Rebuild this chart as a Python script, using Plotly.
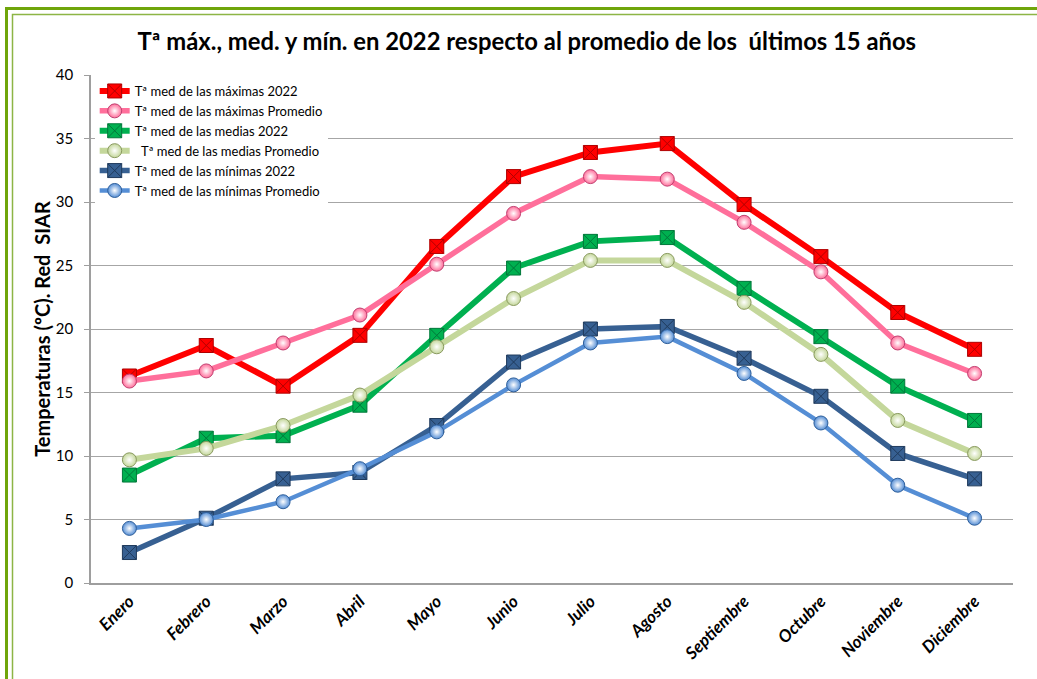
import plotly.graph_objects as go

meses = ["Enero", "Febrero", "Marzo", "Abril", "Mayo", "Junio", "Julio",
         "Agosto", "Septiembre", "Octubre", "Noviembre", "Diciembre"]

max_2022 = [16.3, 18.7, 15.5, 19.5, 26.5, 32.0, 33.9, 34.6, 29.8, 25.7, 21.3, 18.4]
max_prom = [15.9, 16.7, 18.9, 21.1, 25.1, 29.1, 32.0, 31.8, 28.4, 24.5, 18.9, 16.5]
med_2022 = [8.5, 11.4, 11.6, 14.0, 19.5, 24.8, 26.9, 27.2, 23.2, 19.4, 15.5, 12.8]
med_prom = [9.7, 10.6, 12.4, 14.8, 18.6, 22.4, 25.4, 25.4, 22.1, 18.0, 12.8, 10.2]
min_2022 = [2.4, 5.1, 8.2, 8.7, 12.4, 17.4, 20.0, 20.2, 17.7, 14.7, 10.2, 8.2]
min_prom = [4.3, 5.0, 6.4, 9.0, 11.9, 15.6, 18.9, 19.4, 16.5, 12.6, 7.7, 5.1]

series = [
    ("Tª med de las máximas 2022", max_2022, "#FF0000", "#B00000", 6, "square-x"),
    ("Tª med de las máximas Promedio", max_prom, "#FF6F9B", "#C04070", 5.5, "circle"),
    ("Tª med de las medias 2022", med_2022, "#00B050", "#00783A", 6, "square-x"),
    ("  Tª med de las medias Promedio", med_prom, "#C4D79B", "#8A9A60", 6, "circle"),
    ("Tª med de las mínimas 2022", min_2022, "#376092", "#1F3A5C", 5.5, "square-x"),
    ("Tª med de las mínimas Promedio", min_prom, "#558ED5", "#2F5F9A", 4.5, "circle"),
]

FONT = "Lato, 'Open Sans', 'Liberation Sans', sans-serif"

fig = go.Figure()
for name, vals, col, dark, lw, sym in series:
    if sym == "circle":
        marker = dict(symbol="circle", size=14, color=col,
                      gradient=dict(type="radial", color="#FFFFFF"),
                      line=dict(color=dark, width=1))
    else:
        marker = dict(symbol="square-x", size=14, color=col,
                      line=dict(color=dark, width=1))
    fig.add_trace(go.Scatter(x=meses, y=vals, name=name, mode="lines+markers",
                             line=dict(color=col, width=lw), marker=marker))

# plot area in px: x 91..1013, y 75..583
def px_x(p):
    return (p - 91) / 922.0

def px_y(p):
    return (583 - p) / 508.0

shapes = [
    dict(type="rect", xref="paper", yref="paper",
         x0=px_x(6.5), x1=px_x(1050), y0=px_y(700), y1=px_y(8.5),
         line=dict(color="#6FA50A", width=3), fillcolor="rgba(0,0,0,0)", layer="above"),
    dict(type="rect", xref="paper", yref="paper",
         x0=px_x(12.5), x1=px_x(1050), y0=px_y(700), y1=px_y(14.5),
         line=dict(color="#8DB545", width=1.5), fillcolor="rgba(0,0,0,0)", layer="above"),
]

fig.update_layout(
    width=1037, height=679,
    margin=dict(l=91, r=24, t=75, b=96),
    paper_bgcolor="white", plot_bgcolor="white",
    font=dict(family=FONT, color="#000000"),
    title=dict(text="<b>Tª máx., med. y mín. en 2022 respecto al promedio de los  últimos 15 años</b>",
               x=0.508, xanchor="center", y=1 - 42 / 679, yanchor="middle", yref="container",
               font=dict(size=23.8, family=FONT, color="#000000")),
    showlegend=True,
    legend=dict(x=0.004, y=0.998, xanchor="left", yanchor="top",
                bgcolor="white", borderwidth=0,
                font=dict(size=13, family=FONT, color="#000000"),
                tracegroupgap=0, itemwidth=30),
    shapes=shapes,
)

fig.update_xaxes(
    showgrid=False, showline=True, linecolor="#9E9E9E", linewidth=1.5,
    tickangle=-45, ticks="",
    tickfont=dict(size=17, family=FONT, color="#000000", weight="bold", style="italic"),
    range=[-0.5, 11.5],
)
fig.update_yaxes(
    range=[0, 40], dtick=5, showgrid=True, gridcolor="#A6A6A6", gridwidth=1.3,
    showline=True, linecolor="#9E9E9E", linewidth=1.5,
    ticks="outside", ticklen=5, tickcolor="#9E9E9E",
    ticklabelstandoff=8,
    tickfont=dict(size=15, family=FONT, color="#000000"),
    title=dict(text="<b>Temperaturas (ºC). Red  SIAR</b>", standoff=0,
               font=dict(size=20, family=FONT, color="#000000")),
    zeroline=False,
)

fig.write_html("out.html", config={"displayModeBar": False},
               post_script="document.body.style.margin='0';document.body.style.overflow='hidden';")
